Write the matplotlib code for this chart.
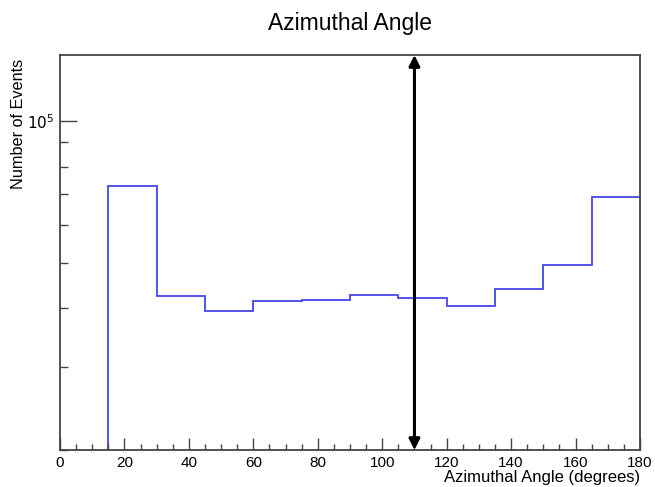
import numpy as np
from matplotlib import pyplot as plt
from matplotlib.ticker import FixedLocator, MultipleLocator, NullFormatter, FixedFormatter

plt.rcParams['font.family'] = ['Liberation Sans', 'DejaVu Sans']

# bin edges (degrees) and counts
binEdges = [0, 15, 30, 45, 60, 75, 90, 105, 120, 135, 150, 165, 180]
counts = [0, 72900, 42550, 39400, 41450, 41660, 42640, 42020, 40350, 44050, 49320, 68900]
cutValue = 110
yMin = 2.0e4
yMax = 1.38e5

fig = plt.figure(figsize=(6.55, 4.87), dpi=100)
ax = fig.add_axes([0.0916, 0.076, 0.8855, 0.811])

ax.stairs(counts, binEdges, baseline=None, color='#4646e6', lw=1.3)
ax.set_yscale('log')
ax.set_xlim(0, 180)
ax.set_ylim(yMin, yMax)

# double headed arrow at the cut
ax.annotate('', xy=(cutValue, 1.0), xytext=(cutValue, 0.0),
            xycoords=('data', 'axes fraction'), textcoords=('data', 'axes fraction'),
            arrowprops=dict(arrowstyle='<|-|>', color='black', lw=2.2,
                            shrinkA=0, shrinkB=0, mutation_scale=16))

frameColor = '#444444'
for s in ax.spines.values():
    s.set_color(frameColor)
    s.set_linewidth(1.3)

ax.xaxis.set_major_locator(MultipleLocator(20))
ax.xaxis.set_minor_locator(MultipleLocator(5))
ax.yaxis.set_major_locator(FixedLocator([1e5]))
ax.yaxis.set_major_formatter(FixedFormatter([r'$10^{5}$']))
ax.yaxis.set_minor_locator(FixedLocator([2e4, 3e4, 4e4, 5e4, 6e4, 7e4, 8e4, 9e4]))
ax.yaxis.set_minor_formatter(NullFormatter())

ax.tick_params(axis='both', which='both', direction='in', color=frameColor,
               width=1.0, top=False, right=False, labelsize=11)
ax.tick_params(axis='x', which='major', length=9, pad=4)
ax.tick_params(axis='x', which='minor', length=4.5)
ax.tick_params(axis='y', which='major', length=12, pad=4)
ax.tick_params(axis='y', which='minor', length=6)

ax.set_title('Azimuthal Angle', fontsize=16.5, pad=18)
ax.set_xlabel('Azimuthal Angle (degrees)', fontsize=12, loc='right')
ax.xaxis.set_label_coords(1.0, -0.05)
ax.set_ylabel('Number of Events', fontsize=11.7, loc='top')
ax.yaxis.set_label_coords(-0.058, 0.99)

fig.savefig('out.png', dpi=100)
